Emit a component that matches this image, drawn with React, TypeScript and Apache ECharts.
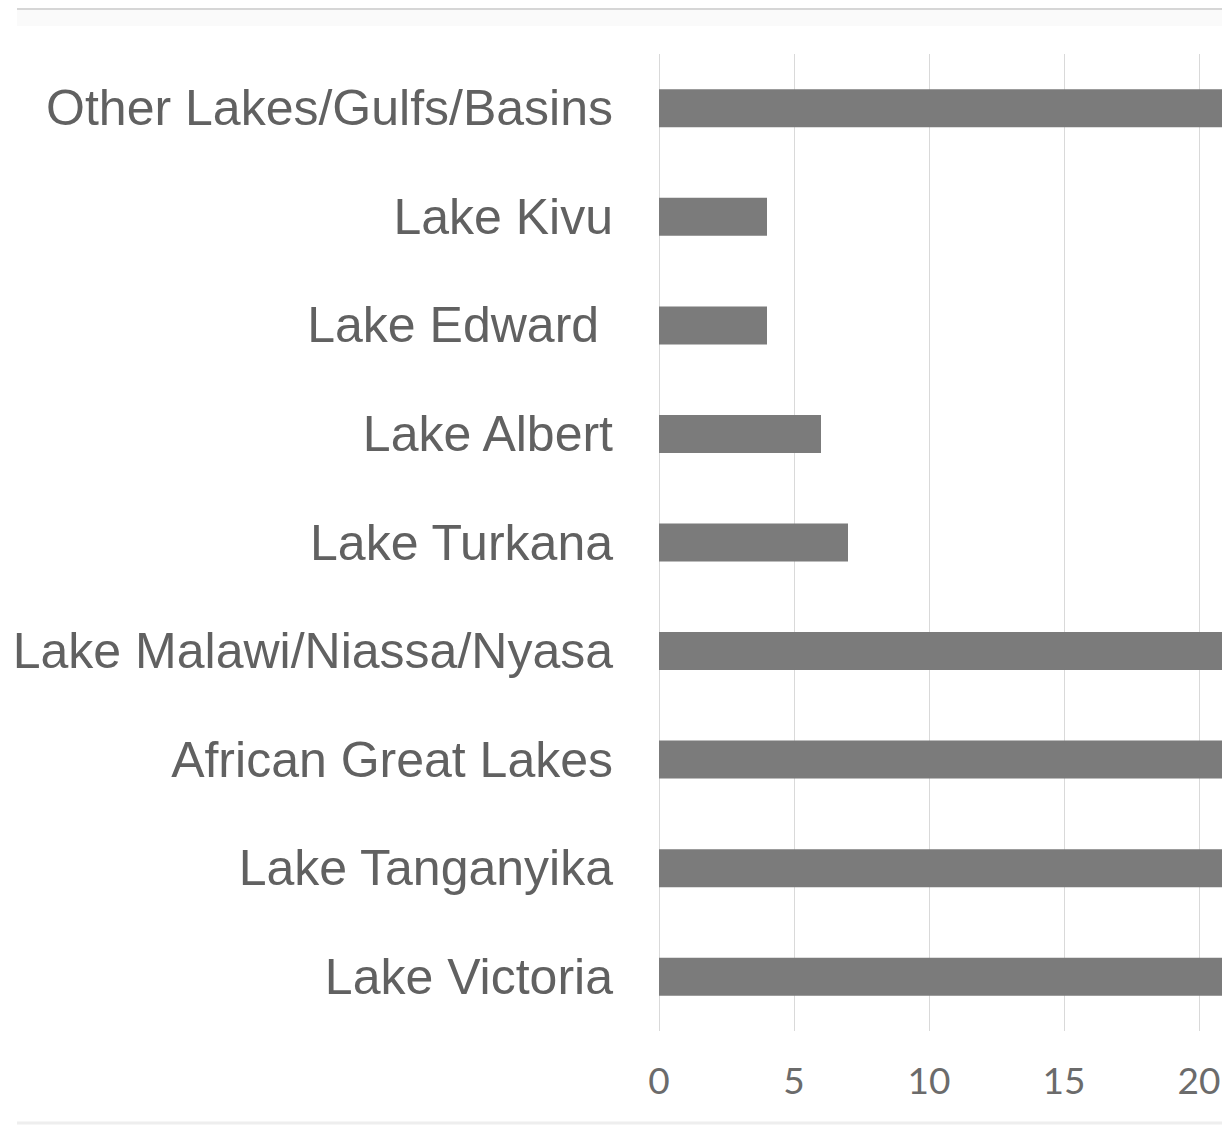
import React, { useEffect, useRef } from "react";
import * as echarts from "echarts";

// categories listed from bottom to top of the chart
const categories = [
  "Lake Victoria",
  "Lake Tanganyika",
  "African Great Lakes",
  "Lake Malawi/Niassa/Nyasa",
  "Lake Turkana",
  "Lake Albert",
  "Lake Edward ",
  "Lake Kivu",
  "Other Lakes/Gulfs/Basins",
];
// values (bars running past the visible edge are estimated beyond 21)
const values = [27, 25, 28, 24, 7, 6, 4, 4, 26];
const xTicks = [0, 5, 10, 15, 20, 25, 30];

export default function App() {
  const ref = useRef<HTMLDivElement>(null);
  useEffect(() => {
    if (!ref.current) return;
    const chart = echarts.init(ref.current, null, { renderer: "svg" });
    chart.setOption({
      animation: false,
      backgroundColor: "#ffffff",
      grid: {
        left: 644,
        top: 54,
        width: 810,
        height: 977,
        containLabel: false,
        outerBoundsMode: "none",
      },
      xAxis: {
        type: "value",
        min: xTicks[0],
        max: xTicks[xTicks.length - 1],
        interval: 5,
        axisLine: { show: false },
        axisTick: { show: false },
        splitLine: { show: true, lineStyle: { color: "#d9d9d9", width: 1 } },
        axisLabel: {
          margin: 30,
          color: "#6b6b6b",
          fontSize: 37,
          fontFamily: "Lato",
        },
      },
      yAxis: {
        type: "category",
        data: categories,
        axisLine: { show: false },
        axisTick: { show: false },
        axisLabel: {
          margin: 46,
          color: "#616161",
          fontSize: 50,
          fontFamily: "Liberation Sans",
        },
      },
      series: [
        {
          type: "bar",
          data: values,
          barWidth: 38,
          itemStyle: { color: "#7b7b7b" },
        },
      ],
      graphic: [
        {
          type: "rect",
          shape: { x: 2, y: 10, width: 1300, height: 16 },
          style: { fill: "#fafafa" },
          silent: true,
        },
        {
          type: "line",
          shape: { x1: 2, y1: 9, x2: 1300, y2: 9 },
          style: { stroke: "#d6d6d6", lineWidth: 2 },
          silent: true,
        },
        {
          type: "line",
          shape: { x1: 2, y1: 1123, x2: 1300, y2: 1123 },
          style: { stroke: "#eeeeee", lineWidth: 3 },
          silent: true,
        },
      ],
    });
    return () => chart.dispose();
  }, []);
  return (
    <div
      style={{
        position: "fixed",
        left: 15,
        top: 0,
        width: 1207,
        height: 1126,
        overflow: "hidden",
        background: "#fff",
      }}
    >
      <div ref={ref} style={{ width: 1500, height: 1126 }} />
    </div>
  );
}
